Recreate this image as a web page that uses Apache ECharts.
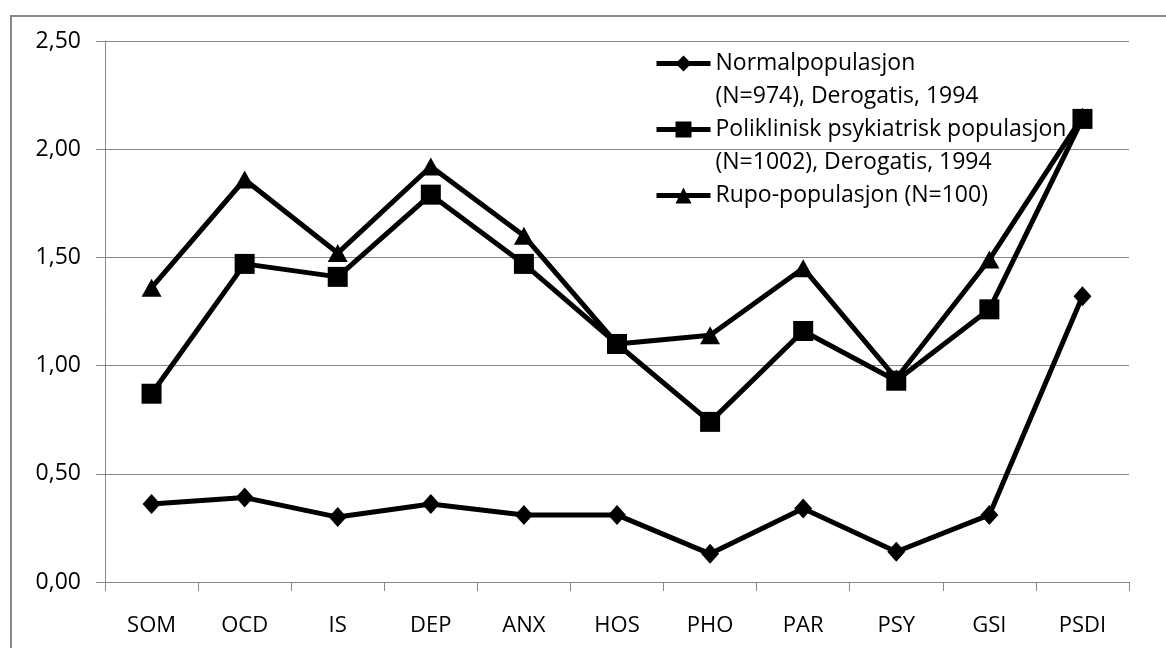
<!DOCTYPE html>
<html>
<head>
<meta charset="utf-8">
<script src="https://cdn.jsdelivr.net/npm/echarts@6/dist/echarts.min.js"></script>
<style>html,body{margin:0;padding:0;background:#fff}#c{width:1166px;height:648px}</style>
</head>
<body>
<div id="c"></div>
<script>
const categories = ['SOM','OCD','IS','DEP','ANX','HOS','PHO','PAR','PSY','GSI','PSDI'];
const normalValues = [0.36, 0.39, 0.30, 0.36, 0.31, 0.31, 0.13, 0.34, 0.14, 0.31, 1.32];
const polikliniskValues = [0.87, 1.47, 1.41, 1.79, 1.47, 1.10, 0.74, 1.16, 0.93, 1.26, 2.14];
const rupoValues = [1.36, 1.86, 1.52, 1.92, 1.60, 1.10, 1.14, 1.45, 0.94, 1.49, 2.15];
const seriesNames = ['Normalpopulasjon\n(N=974), Derogatis, 1994', 'Poliklinisk psykiatrisk populasjon\n(N=1002), Derogatis, 1994', 'Rupo-populasjon (N=100)'];
const yTickLabels = ['0,00','0,50','1,00','1,50','2,00','2,50'];

const FONT = 'Open Sans';
const chart = echarts.init(document.getElementById('c'));
const mk = (name, data, symbol, size) => ({
  name, type: 'line', data, symbol, symbolSize: size, showSymbol: true,
  lineStyle: { color: '#000', width: 5 },
  itemStyle: { color: '#000' },
  animation: false
});
chart.setOption({
  animation: false,
  backgroundColor: '#fff',
  graphic: [{
    type: 'rect', shape: { x: 11, y: 16, width: 1180, height: 660 },
    style: { fill: 'none', stroke: '#878787', lineWidth: 2 }, silent: true, z: -10
  }],
  grid: { left: 105, right: 37, top: 41, bottom: 66 },
  legend: {
    orient: 'vertical', left: 654, top: 14, padding: 0,
    itemWidth: 54, itemHeight: 20, itemGap: -33,
    lineStyle: { width: 5, color: '#000' },
    textStyle: { fontFamily: FONT, fontSize: 23, color: '#000', lineHeight: 33 },
    formatter: name => name.indexOf('\n') >= 0 ? '\n' + name : '\n' + name + '\n',
    data: seriesNames
  },
  xAxis: {
    type: 'category', data: categories, boundaryGap: true,
    axisLine: { lineStyle: { color: '#878787', width: 1 } },
    axisTick: { show: true, length: 9, lineStyle: { color: '#878787' } },
    axisLabel: { fontFamily: FONT, fontSize: 22, color: '#000', margin: 33 }
  },
  yAxis: {
    type: 'value', min: 0, max: 2.5, interval: 0.5,
    axisLine: { show: true, lineStyle: { color: '#878787', width: 1 } },
    axisTick: { show: true, length: 9, lineStyle: { color: '#878787' } },
    splitLine: { lineStyle: { color: '#878787', width: 1 } },
    axisLabel: {
      fontFamily: FONT, fontSize: 23, color: '#000', margin: 24,
      formatter: v => yTickLabels[Math.round(v / 0.5)]
    }
  },
  series: [
    mk(seriesNames[0], normalValues, 'diamond', [18, 20]),
    mk(seriesNames[1], polikliniskValues, 'rect', [20, 20]),
    mk(seriesNames[2], rupoValues, 'triangle', [20, 18])
  ]
});
</script>
</body>
</html>
